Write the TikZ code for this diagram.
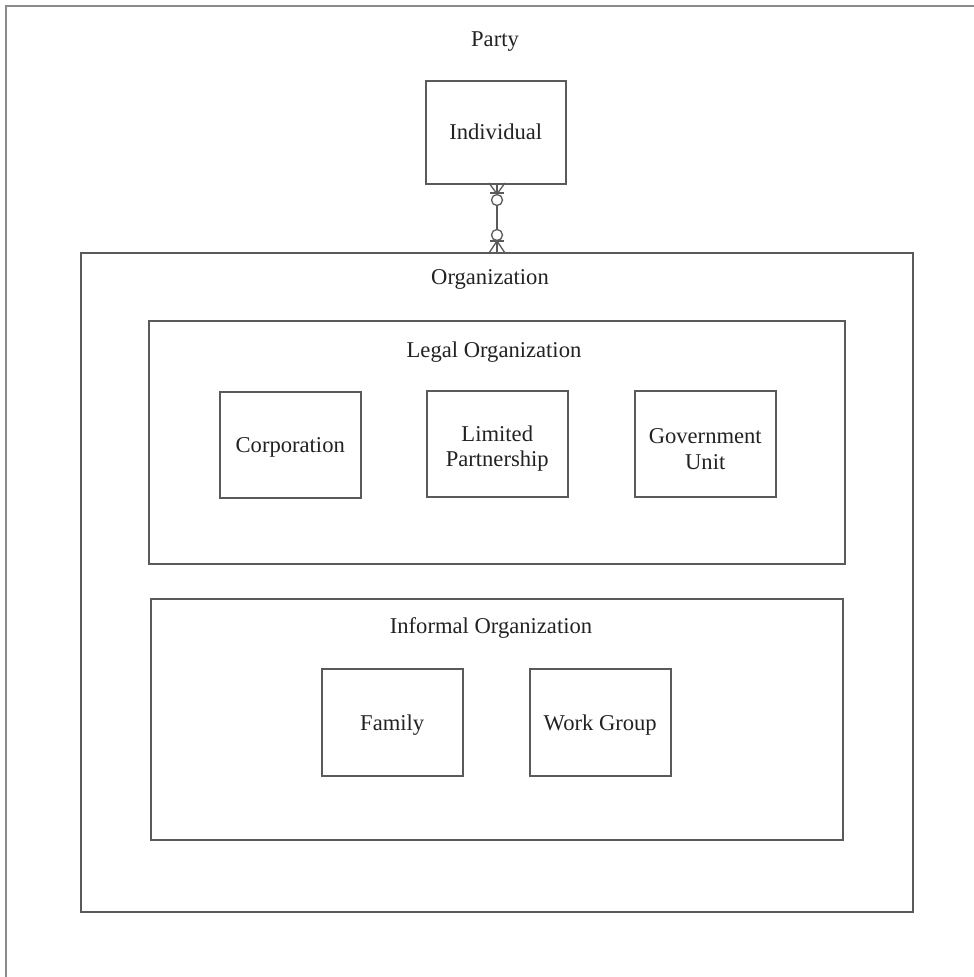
\documentclass[tikz,border=0pt]{standalone}
\usepackage{fontspec}
\setmainfont{Liberation Serif}
\definecolor{linec}{HTML}{5A5A5A}
\definecolor{framec}{HTML}{8A8A8A}
\definecolor{textc}{HTML}{222222}
\newcommand{\dn}[1]{\raisebox{-2.5pt}[\height][\depth]{#1}}
\begin{document}
\begin{tikzpicture}[x=1pt,y=-1pt,
  boxline/.style={draw=linec,line width=1.5pt},
  lbl/.style={text=textc,font=\fontsize{22.6}{25.5}\selectfont,align=center,inner sep=0pt},
  ent/.style={boxline,rectangle,minimum width=141pt,minimum height=106pt,inner sep=0pt,text=textc,font=\fontsize{22.6}{25.5}\selectfont,align=center,anchor=north west},
  conn/.style={draw=linec,line width=1.3pt}]
\useasboundingbox (0,0) rectangle (974,977);
% party frame
\draw[framec,line width=1.5pt] (6,977) -- (6,6) -- (974,6);
\node[lbl] (party) at (495,42) {Party};
% individual
\node[ent,minimum width=140pt,minimum height=103pt] (indiv) at (425,80) {Individual};
% organization
\draw[boxline] (81,253) rectangle (913,912);
\coordinate (orgtop) at (497,253);
\node[lbl] (org) at (490,279) {Organization};
% legal org
\draw[boxline] (149,321) rectangle (845,564);
\node[lbl] (legal) at (494,352) {Legal Organization};
\node[ent] (corp) at (219,391) {\dn{Corporation}};
\node[ent] (lp) at (426,390) {\\[-25.5pt]\rule{0pt}{0pt}\\Limited\\Partnership};
\node[ent] (gov) at (634,390) {\\[-25.5pt]\rule{0pt}{0pt}\\Government\\Unit};
% informal org
\draw[boxline] (151,599) rectangle (843,840);
\node[lbl] (inf) at (491,628) {Informal Organization};
\node[ent,minimum height=107pt] (fam) at (321,668) {\dn{Family}};
\node[ent,minimum height=107pt] (wg) at (529,668) {\dn{Work Group}};
% connector: zero-or-many at both ends
\coordinate (ib) at (497,183);
\coordinate (c1) at (497,200);
\coordinate (c2) at (497,235);
\draw[conn] (ib) ++(-8,0) -- (497,194) -- (505,183);
\draw[conn] (ib) -- (497,194);
\draw[conn] (490,193) -- (504,193);
\draw[conn] (c1) circle (5.5);
\draw[conn] (497,205.5) -- (497,229.5);
\draw[conn] (c2) circle (5.5);
\draw[conn] (489,253) -- (497,241) -- (505,253);
\draw[conn] (497,241) -- (orgtop);
\draw[conn] (490,241) -- (504,241);
\end{tikzpicture}
\end{document}
